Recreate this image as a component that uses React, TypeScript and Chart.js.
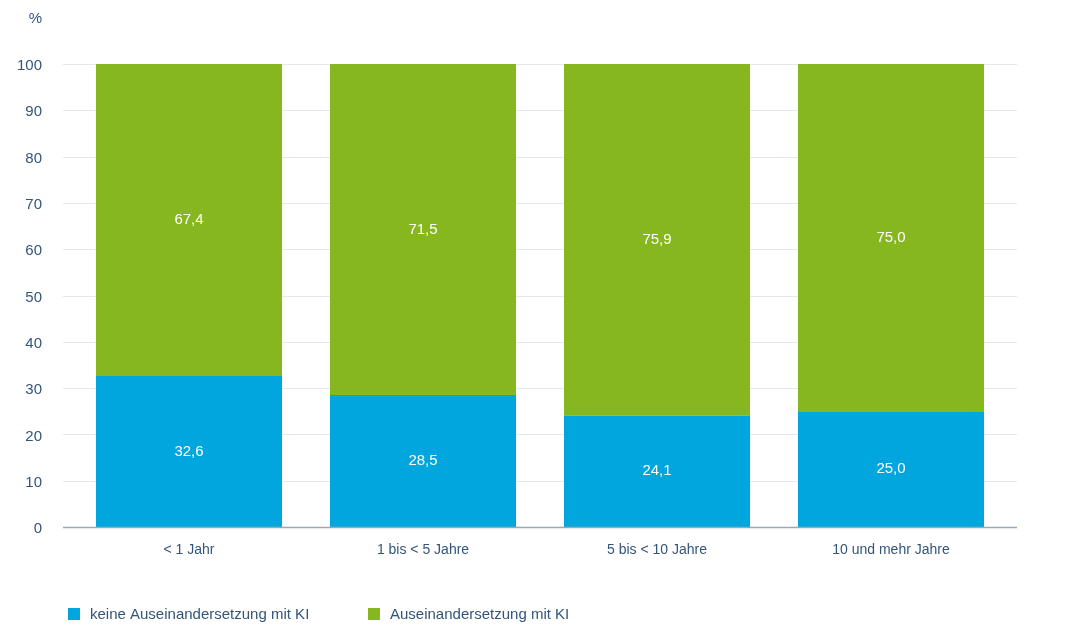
import React, { useEffect, useRef } from "react";
import { Chart, registerables } from "chart.js";

Chart.register(...registerables);

const categories = ["< 1 Jahr", "1 bis < 5 Jahre", "5 bis < 10 Jahre", "10 und mehr Jahre"];
const keineKI = [32.6, 28.5, 24.1, 25.0];
const mitKI = [67.4, 71.5, 75.9, 75.0];
const seriesNames = ["keine Auseinandersetzung mit KI", "Auseinandersetzung mit KI"];
const seriesColors = ["#00a6dd", "#86b71e"];
const yUnit = "%";
const yTicks = [0, 10, 20, 30, 40, 50, 60, 70, 80, 90, 100];

const FONT = "'Liberation Sans', Arial, sans-serif";
const TEXT = "#34557a";
const GRID_LEFT = 63;
const GRID_RIGHT = 1017;

const fmt = (v: number) => v.toFixed(1).replace(".", ",");

const extrasPlugin = {
  id: "extras",
  beforeDatasetsDraw(chart: any) {
    const ctx = chart.ctx;
    const y = chart.scales.y;
    ctx.save();
    ctx.strokeStyle = "#e5e9ee";
    ctx.lineWidth = 1;
    yTicks.forEach((t) => {
      if (t === 0) return;
      const py = Math.round(y.getPixelForValue(t)) + 0.5;
      ctx.beginPath();
      ctx.moveTo(GRID_LEFT, py);
      ctx.lineTo(GRID_RIGHT, py);
      ctx.stroke();
    });
    ctx.restore();
  },
  afterDatasetsDraw(chart: any) {
    const ctx = chart.ctx;
    const ys = chart.scales.y;
    ctx.save();
    const py0 = ys.getPixelForValue(0);
    ctx.strokeStyle = "#9aa7b6";
    ctx.lineWidth = 1.5;
    ctx.beginPath();
    ctx.moveTo(GRID_LEFT, py0 + 0.5);
    ctx.lineTo(GRID_RIGHT, py0 + 0.5);
    ctx.stroke();
    ctx.font = `15px ${FONT}`;
    ctx.fillStyle = "#ffffff";
    ctx.textAlign = "center";
    ctx.textBaseline = "middle";
    chart.data.datasets.forEach((ds: any, di: number) => {
      const meta = chart.getDatasetMeta(di);
      meta.data.forEach((bar: any, i: number) => {
        const y = (bar.y + bar.base) / 2;
        ctx.fillText(fmt(ds.data[i]), bar.x, y);
      });
    });
    ctx.restore();
  },
  afterDraw(chart: any) {
    const ctx = chart.ctx;
    ctx.save();
    ctx.font = `15px ${FONT}`;
    ctx.fillStyle = TEXT;
    ctx.textAlign = "right";
    ctx.textBaseline = "middle";
    ctx.fillText(yUnit, 42, 19);
    const legendX = [68, 368];
    ctx.textAlign = "left";
    chart.data.datasets.forEach((ds: any, di: number) => {
      const x = legendX[di];
      ctx.fillStyle = ds.backgroundColor;
      ctx.fillRect(x, 608, 12, 12);
      ctx.fillStyle = TEXT;
      ctx.fillText(ds.label, x + 22, 615);
    });
    ctx.restore();
  },
};

export default function App() {
  const ref = useRef<HTMLCanvasElement>(null);
  useEffect(() => {
    if (!ref.current) return;
    const chart = new Chart(ref.current, {
      type: "bar",
      data: {
        labels: categories,
        datasets: [
          { label: seriesNames[0], data: keineKI, backgroundColor: seriesColors[0], borderWidth: 0 },
          { label: seriesNames[1], data: mitKI, backgroundColor: seriesColors[1], borderWidth: 0 },
        ],
      },
      options: {
        animation: false,
        responsive: false,
        devicePixelRatio: 1,
        layout: { padding: { top: 64, right: 72, left: 0, bottom: 0 } },
        plugins: { legend: { display: false }, tooltip: { enabled: false } },
        datasets: { bar: { categoryPercentage: 0.795, barPercentage: 1 } },
        scales: {
          x: {
            stacked: true,
            grid: { display: false, drawTicks: false },
            border: { display: false },
            ticks: { font: { family: FONT, size: 14 }, color: TEXT, padding: 15 },
            afterFit: (s: any) => { s.height = 105; },
          },
          y: {
            stacked: true,
            min: 0,
            max: 100,
            afterBuildTicks: (s: any) => { s.ticks = yTicks.map((v) => ({ value: v })); },
            ticks: { font: { family: FONT, size: 15 }, color: TEXT, padding: 30, labelOffset: 2 },
            grid: { display: false, drawTicks: false },
            border: { display: false },
            afterFit: (s: any) => { s.width = 72; },
          },
        },
      },
      plugins: [extrasPlugin],
    });
    return () => chart.destroy();
  }, []);
  return (
    <div style={{ position: "fixed", left: 0, top: 0, width: 1080, height: 632, background: "#fff" }}>
      <canvas ref={ref} width={1080} height={632} style={{ width: 1080, height: 632, display: "block" }} />
    </div>
  );
}
